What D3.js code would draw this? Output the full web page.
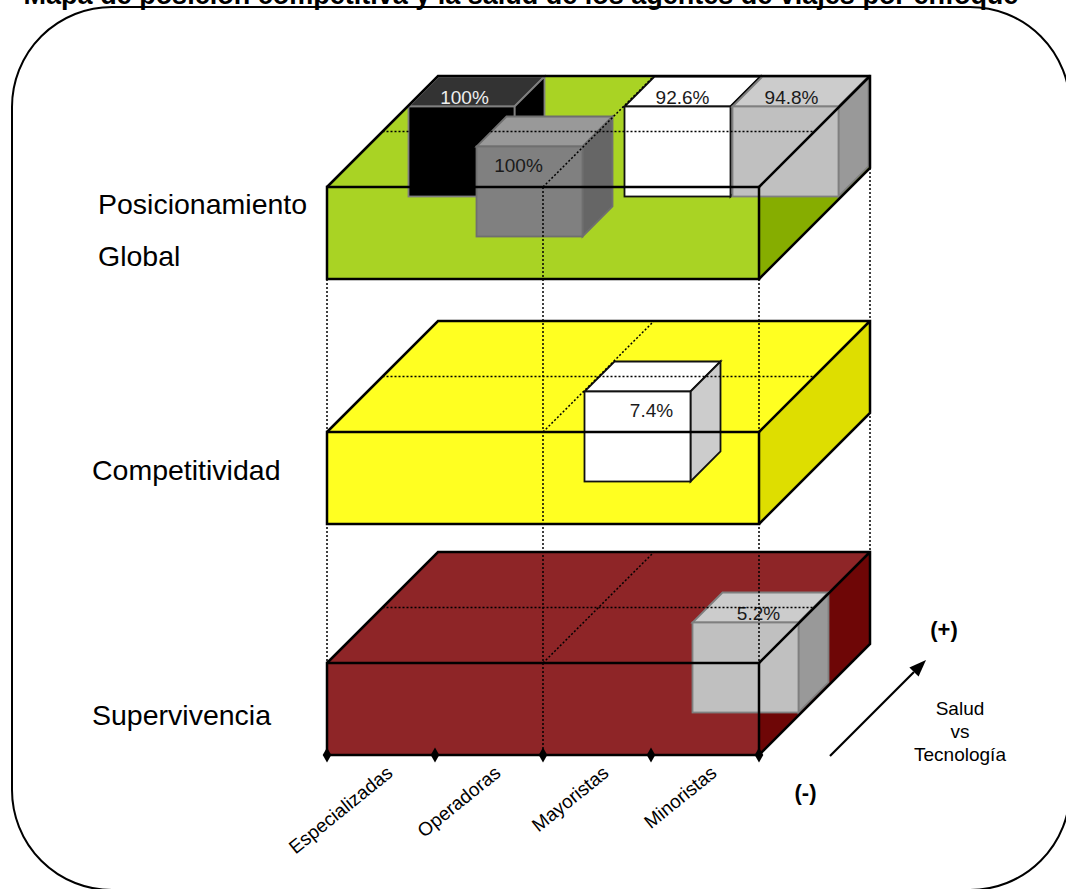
<!DOCTYPE html>
<html>
<head>
<meta charset="utf-8">
<script src="https://cdn.jsdelivr.net/npm/d3@7"></script>
<style>
  html, body { margin: 0; padding: 0; background: #ffffff; overflow: hidden; }
  svg { display: block; }
</style>
</head>
<body>
<svg id="chart" width="1066" height="889"></svg>
<script>
// ---- data ----
const title = "Mapa de posición competitiva y la salud de los agentes de viajes por enfoque";
const categories = ["Especializadas", "Operadoras", "Mayoristas", "Minoristas"];
const levels = ["Posicionamiento Global", "Competitividad", "Supervivencia"];
const levelLabels = [["Posicionamiento", "Global"], ["Competitividad"], ["Supervivencia"]];
const saludLevels = ["baja", "media", "alta"];            // Salud vs Tecnología, (-) front to (+) back
const cubeLevel = ["Posicionamiento Global", "Posicionamiento Global", "Posicionamiento Global",
                   "Posicionamiento Global", "Competitividad", "Supervivencia"];
const cubeCategory = ["Especializadas", "Operadoras", "Mayoristas", "Minoristas", "Mayoristas", "Minoristas"];
const cubeSalud = ["alta", "media", "alta", "alta", "media", "media"];
const cubeShare = [100, 100, 92.6, 94.8, 7.4, 5.2];
const depthAxisText = ["Salud", "vs", "Tecnología"];
const depthAxisEnds = ["(-)", "(+)"];

// ---- layout ----
const FONT = "'Liberation Sans', Arial, Helvetica, sans-serif";
const X0 = 327, X1 = 759, DEPTH = 111, SLAB = 92;
const x = d3.scaleBand(categories, [X0, X1]);
const z = d3.scaleBand(saludLevels, [0, DEPTH]).paddingInner(0.25).paddingOuter(0.0125);
const levelTop = d3.scaleOrdinal(levels, [187, 432, 663]);
const levelLabelX = [98, 92, 92];
const levelLabelY = [[214, 265.5], [480.4], [724.8]];

const blockFill = d3.scaleOrdinal(levels, ["#a9d324", "#ffff21", "#8e2527"]);
const blockSide = d3.scaleOrdinal(levels, ["#86ad00", "#dede00", "#6e0606"]);
const cubeFront = d3.scaleOrdinal(categories, ["#000000", "#808080", "#ffffff", "#c0c0c0"]);
const cubeTop = d3.scaleOrdinal(categories, ["#333333", "#999999", "#ffffff", "#cccccc"]);
const cubeSide = d3.scaleOrdinal(categories, ["#000000", "#666666", "#cccccc", "#999999"]);
const cubeEdge = d3.scaleOrdinal(categories, ["#7f7f7f", "#6f6f6f", "#111111", "#7f7f7f"]);
const cubeText = d3.scaleOrdinal(categories, ["#eeeeee", "#1a1a1a", "#1a1a1a", "#1a1a1a"]);
// where each value label sits on its cube
const labelPlacement = [
  { face: "top", dx: 56 }, { face: "front", dx: 42 }, { face: "top", dx: 58 },
  { face: "top", dx: 59 }, { face: "front", dx: 67 }, { face: "top", dx: 66 }
];

// oblique projection: depth d shifts a point right and up by d
const P = (px, py, d = 0) => [px + d, py - d];
const poly = pts => "M" + pts.map(p => p.join(",")).join("L") + "Z";

const svg = d3.select("#chart");

// frame
svg.append("rect")
  .attr("x", 12).attr("y", 7).attr("width", 1058).attr("height", 883)
  .attr("rx", 100).attr("ry", 100)
  .attr("fill", "none").attr("stroke", "#000").attr("stroke-width", 2);

// title (sits at the top edge of the page)
svg.append("text")
  .attr("x", 521).attr("y", 4)
  .attr("text-anchor", "middle")
  .attr("font-family", FONT).attr("font-weight", "bold").attr("font-size", 27)
  .text(title);

// ---- slab fills ----
const gFill = svg.append("g");
levels.forEach(lv => {
  const t = levelTop(lv), b = t + SLAB;
  gFill.append("path").attr("d", poly([P(X0, t), P(X1, t), P(X1, t, DEPTH), P(X0, t, DEPTH)]))
    .attr("fill", blockFill(lv));
  gFill.append("path").attr("d", poly([P(X0, t), P(X1, t), P(X1, b), P(X0, b)]))
    .attr("fill", blockFill(lv));
  gFill.append("path").attr("d", poly([P(X1, t), P(X1, t, DEPTH), P(X1, b, DEPTH), P(X1, b)]))
    .attr("fill", blockSide(lv));
});

// ---- cubes ----
const cubes = cubeShare.map((v, i) => ({
  i, value: v, level: cubeLevel[i], cat: cubeCategory[i], salud: cubeSalud[i]
}));
const drawOrder = cubes.slice().sort((a, b) =>
  d3.descending(z(a.salud), z(b.salud)) || d3.ascending(x(a.cat), x(b.cat)));
const CW = x.bandwidth() - 2, CD = z.bandwidth(), CH = SLAB - 2;
const gCubes = svg.append("g");
drawOrder.forEach(c => {
  const d = z(c.salud);
  const fx = x(c.cat) + 1 + d, fy = levelTop(c.level) - d;
  const g = gCubes.append("g")
    .attr("stroke", cubeEdge(c.cat)).attr("stroke-width", 1.8).attr("stroke-linejoin", "miter");
  g.append("path").attr("d", poly([[fx, fy], [fx + CW, fy], [fx + CW + CD, fy - CD], [fx + CD, fy - CD]]))
    .attr("fill", cubeTop(c.cat));
  g.append("path").attr("d", poly([[fx + CW, fy], [fx + CW + CD, fy - CD], [fx + CW + CD, fy - CD + CH], [fx + CW, fy + CH]]))
    .attr("fill", cubeSide(c.cat));
  g.append("rect").attr("x", fx).attr("y", fy).attr("width", CW).attr("height", CH)
    .attr("fill", cubeFront(c.cat));
  const lp = labelPlacement[c.i];
  gCubes.append("text")
    .attr("x", fx + lp.dx)
    .attr("y", lp.face === "top" ? fy - 3 : fy + 25.5)
    .attr("text-anchor", "middle")
    .attr("font-family", FONT).attr("font-size", 19)
    .attr("fill", cubeText(c.cat))
    .text(c.value + "%");
});

// ---- dotted guides ----
const gDot = svg.append("g")
  .attr("stroke", "#000").attr("stroke-width", 1.5).attr("stroke-dasharray", "2,2").attr("fill", "none");
const xMid = x(categories[2]);
const yFirst = levelTop(levels[0]), yLast = levelTop(levels[levels.length - 1]) + SLAB;
[X0, xMid, X1].forEach(px => {
  gDot.append("line").attr("x1", px).attr("x2", px).attr("y1", yFirst).attr("y2", yLast);
});
gDot.append("line")
  .attr("x1", X1 + DEPTH).attr("x2", X1 + DEPTH)
  .attr("y1", yFirst + SLAB - DEPTH).attr("y2", yLast - DEPTH);
levels.forEach(lv => {
  const t = levelTop(lv), h = DEPTH / 2;
  gDot.append("line").attr("x1", X0 + h).attr("y1", t - h).attr("x2", X1 + h).attr("y2", t - h);
  gDot.append("line").attr("x1", xMid).attr("y1", t).attr("x2", xMid + DEPTH).attr("y2", t - DEPTH);
});

// ---- slab outlines ----
const gLine = svg.append("g")
  .attr("stroke", "#000").attr("stroke-width", 2.5).attr("fill", "none").attr("stroke-linejoin", "miter");
levels.forEach(lv => {
  const t = levelTop(lv), b = t + SLAB;
  gLine.append("rect").attr("x", X0).attr("y", t).attr("width", X1 - X0).attr("height", SLAB);
  gLine.append("path").attr("d",
    "M" + P(X0, t) + "L" + P(X0, t, DEPTH) + "L" + P(X1, t, DEPTH) + "L" + P(X1, b, DEPTH) + "L" + P(X1, b) +
    "M" + P(X1, t) + "L" + P(X1, t, DEPTH));
});

// ---- category axis ----
const edges = categories.map(c => x(c)).concat([X1]);
svg.append("g").selectAll("path").data(edges).join("path")
  .attr("transform", d => `translate(${d},${yLast})`)
  .attr("d", d3.symbol(d3.symbolDiamond, 64))
  .attr("fill", "#000");
svg.append("g").selectAll("text").data(categories).join("text")
  .attr("transform", c => `translate(${x(c) + x.bandwidth() / 2 + 13},${yLast + 20}) rotate(-39)`)
  .attr("text-anchor", "end")
  .attr("font-family", FONT).attr("font-size", 19)
  .text(c => c);

// ---- level names ----
levels.forEach((lv, i) => {
  levelLabels[i].forEach((line, j) => {
    svg.append("text")
      .attr("x", levelLabelX[i]).attr("y", levelLabelY[i][j])
      .attr("font-family", FONT).attr("font-size", 28.5)
      .text(line);
  });
});

// ---- depth axis: Salud vs Tecnología ----
const arrowFrom = [830, 756], arrowTip = [926, 660];
const ux = arrowTip[0] - arrowFrom[0], uy = arrowTip[1] - arrowFrom[1];
const ul = Math.hypot(ux, uy), u = [ux / ul, uy / ul], n = [-u[1], u[0]];
const headLen = 17, headHalf = 6.5;
const base = [arrowTip[0] - u[0] * headLen, arrowTip[1] - u[1] * headLen];
svg.append("line")
  .attr("x1", arrowFrom[0]).attr("y1", arrowFrom[1]).attr("x2", base[0]).attr("y2", base[1])
  .attr("stroke", "#000").attr("stroke-width", 2.2);
svg.append("path")
  .attr("d", poly([arrowTip, [base[0] + n[0] * headHalf, base[1] + n[1] * headHalf],
                   [base[0] - n[0] * headHalf, base[1] - n[1] * headHalf]]))
  .attr("fill", "#000");

svg.append("text").attr("x", 805.5).attr("y", 800).attr("text-anchor", "middle")
  .attr("font-family", FONT).attr("font-weight", "bold").attr("font-size", 22).text(depthAxisEnds[0]);
svg.append("text").attr("x", 944).attr("y", 637).attr("text-anchor", "middle")
  .attr("font-family", FONT).attr("font-weight", "bold").attr("font-size", 22).text(depthAxisEnds[1]);
svg.append("g").selectAll("text").data(depthAxisText).join("text")
  .attr("x", 960).attr("y", (d, i) => 715 + i * 23)
  .attr("text-anchor", "middle")
  .attr("font-family", FONT).attr("font-size", 19)
  .text(d => d);
</script>
</body>
</html>
